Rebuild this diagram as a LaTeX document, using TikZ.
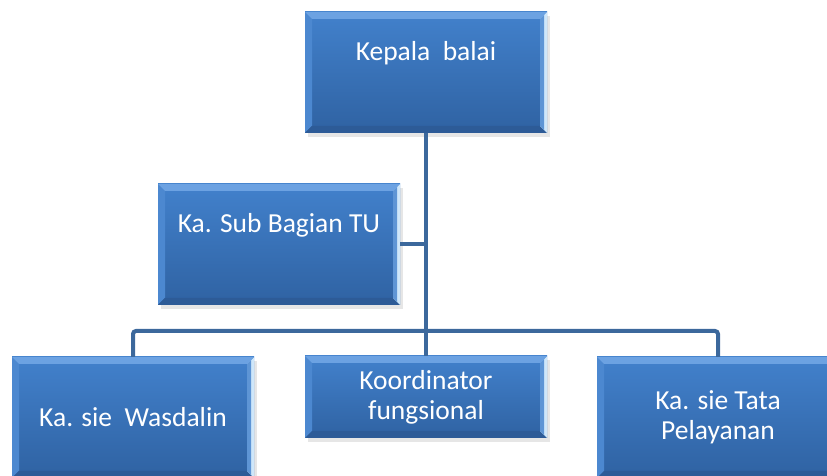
\documentclass[tikz,border=0pt]{standalone}
\usepackage{fontspec}
\setmainfont{Carlito}
\usepackage{xcolor}
\definecolor{UnitTop}{HTML}{4281CC}
\definecolor{UnitBottom}{HTML}{2F62A2}
\definecolor{BevelLight}{HTML}{6CA2E2}
\definecolor{BevelSide}{HTML}{4C88D0}
\definecolor{BevelEdge}{HTML}{CFE7FA}
\definecolor{BevelDark}{HTML}{2D5B97}
\definecolor{LinkBlue}{HTML}{3C689C}
\usetikzlibrary{positioning,shadows,calc}

\begin{document}
\begin{tikzpicture}[x=1pt,y=1pt,
unit/.style={rectangle,inner sep=0pt,minimum width=242pt,minimum height=121pt,align=center,
  top color=UnitTop,bottom color=UnitBottom,text=white,
  font=\fontsize{27.5}{30}\selectfont,
  drop shadow={shadow xshift=3pt,shadow yshift=-4pt,opacity=0.2},
  path picture={
    \fill[BevelSide] (path picture bounding box.north west) -- ([xshift=7pt,yshift=-7pt]path picture bounding box.north west)
      -- ([xshift=7pt,yshift=7pt]path picture bounding box.south west) -- (path picture bounding box.south west) -- cycle;
    \fill[BevelDark] (path picture bounding box.south west) -- ([xshift=7pt,yshift=7pt]path picture bounding box.south west)
      -- ([xshift=-7pt,yshift=7pt]path picture bounding box.south east) -- (path picture bounding box.south east) -- cycle;
    \fill[BevelEdge] (path picture bounding box.north east) -- ([xshift=-7pt,yshift=-7pt]path picture bounding box.north east)
      -- ([xshift=-7pt,yshift=7pt]path picture bounding box.south east) -- (path picture bounding box.south east) -- cycle;
    \fill[UnitTop!80!BevelEdge] ([xshift=-3pt,yshift=-3pt]path picture bounding box.north east) -- ([xshift=-7pt,yshift=-7pt]path picture bounding box.north east)
      -- ([xshift=-7pt,yshift=7pt]path picture bounding box.south east) -- ([xshift=-3pt,yshift=3pt]path picture bounding box.south east) -- cycle;
    \fill[BevelLight] (path picture bounding box.north west) -- (path picture bounding box.north east)
      -- ([xshift=-7pt,yshift=-7pt]path picture bounding box.north east) -- ([xshift=7pt,yshift=-7pt]path picture bounding box.north west) -- cycle;
  }},
raised/.style={text height=18pt,text depth=42pt},
link/.style={draw=LinkBlue,line width=4pt}]
\useasboundingbox (0,0) rectangle (827,476);
\clip (0,0) rectangle (827,476);
% connectors first, boxes on top
\coordinate (bar) at (426,145);
\node[unit,raised] (kepala) at (426,403.5) {Kepala\ \ balai};
\node[unit,raised] (subtu) at (279,231.5) {Ka. Sub Bagian TU};
\node[unit] (wasdalin) at (133,58.5) {Ka. sie\ \ Wasdalin};
\node[unit,minimum height=82pt] (koord) at (426,79) {Koordinator\\fungsional};
\node[unit] (tata) at (718,58.5) {Ka. sie Tata\\Pelayanan};
\draw[link] (kepala.south) -- (koord.north);
\draw[link] (subtu.east) -- (subtu.east -| kepala.south);
\draw[link,rounded corners=3pt] (wasdalin.north) |- (bar) -| (tata.north);
\end{tikzpicture}
\end{document}
